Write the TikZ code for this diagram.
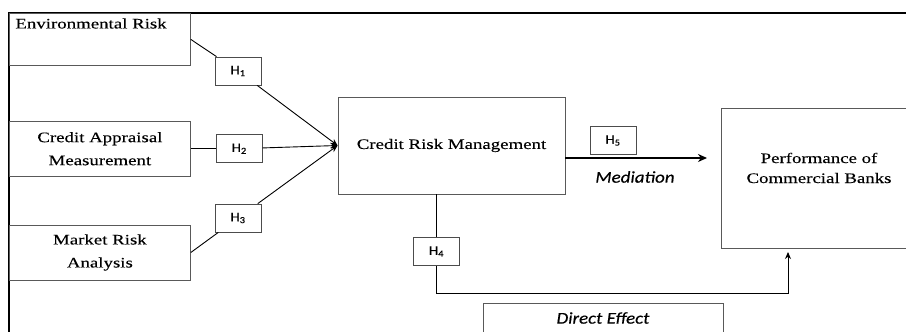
\documentclass[tikz,border=0pt]{standalone}
\usepackage{fontspec}
\setmainfont{Liberation Serif}[FakeStretch=1.3, FakeBold=0.2]
\newfontfamily\hfont{Carlito}[FakeStretch=1.15, FakeBold=0.3]
\usetikzlibrary{positioning,arrows.meta}

\begin{document}
\begin{tikzpicture}[
x=1pt, y=-1pt,
riskbox/.style={rectangle, draw=black!65, line width=0.8pt, minimum width=181pt, minimum height=55pt, inner sep=0pt, align=center, font=\fontsize{14.5}{23}\selectfont},
hypbox/.style={rectangle, draw=black!70, line width=0.8pt, minimum width=46pt, minimum height=28pt, inner sep=0pt, fill=white, font=\hfont\fontsize{13}{15}\selectfont},
bigbox/.style={rectangle, draw=black!65, line width=0.8pt, inner sep=0pt, align=center, font=\fontsize{14.5}{20}\selectfont},
effect/.style={font=\hfont\itshape\fontsize{16.5}{18}\selectfont},
link/.style={draw=black, line width=0.9pt},
]
\clip (0,0) rectangle (906,332);
\useasboundingbox (0,0) rectangle (906,332);

%Frame
\draw[black, line width=1.3pt] (9,345) |- (920,13);

%Nodes
\node[riskbox, anchor=north west, minimum height=52pt] (env) at (9,13)
  {\parbox[t][42pt][t]{169pt}{Environmental Risk}};
\node[riskbox] (cap) [below=55pt of env] {Credit Appraisal\\Measurement};
\node[riskbox] (mkt) [below=48pt of cap] {Market Risk\\Analysis};

\node[hypbox] (h1) at (238,71) {H\textsubscript{1}};
\node[hypbox] (h2) [right=25pt of cap] {H\textsubscript{2}};
\node[hypbox] (h3) at (238,218) {H\textsubscript{3}};

\node[bigbox, minimum width=227pt, minimum height=97pt] (crm) at (451.5,145.5) {Credit Risk Management};
\node[bigbox, minimum width=196pt, minimum height=140pt] (perf) at (819,178)
  {\begin{tabular}{@{}c@{}}Performance of\\Commercial Banks\\[18pt]\end{tabular}};

\node[hypbox] (h5) at (613,140.5) {H\textsubscript{5}};
\node[effect] (med) at (635,177) {Mediation};

\node[hypbox] (h4) at (436.5,251.5) {H\textsubscript{4}};
\node[rectangle, draw=black!65, line width=0.8pt, minimum width=240pt, minimum height=30pt, effect] (dir) at (603,318) {Direct Effect};

\coordinate (medend) at (707,158);
\coordinate (dircorner) at (788,293);
\coordinate (dirend) at (788,252);

%Lines
\draw[link] (env.east) -- (h1);
\draw[link] (cap.east) -- (h2);
\draw[link] (mkt.east) -- (h3);
\draw[link, -{Stealth[length=7pt, width=6pt]}] (h1) -- (crm.west);
\draw[link, -{Stealth[length=7pt, width=6pt]}] (h2) -- (crm.west);
\draw[link, -{Stealth[length=7pt, width=6pt]}] (h3) -- (crm.west);

\draw[link, line width=2pt, -{Stealth[length=9pt, width=8pt]}] (crm.east |- medend) -- (medend);

\draw[link] (crm.south -| h4) -- (h4);
\draw[link, -{Stealth[length=7pt, width=6pt]}] (h4) |- (dircorner) -- (dirend);
\end{tikzpicture}
\end{document}
